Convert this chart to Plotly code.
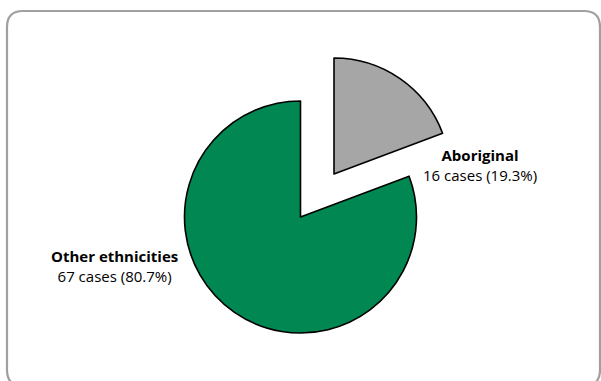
import plotly.graph_objects as go

# ---- data ----
labels = ["Aboriginal", "Other ethnicities"]
cases = [16, 67]
colors = ["#A6A6A6", "#008752"]

total = sum(cases)
pcts = [c / total * 100 for c in cases]

W, H = 601, 381


def px(x):
    return x / W


def py(y):
    return 1 - y / H


def dom(cx, cy, r):
    return dict(x=[px(cx - r), px(cx + r)], y=[py(cy + r), py(cy - r)])


R = 116
fig = go.Figure()

# main pie (other ethnicities), Aboriginal slice left empty
fig.add_trace(go.Pie(
    labels=labels, values=cases, sort=False, direction="clockwise", rotation=0,
    marker=dict(colors=["rgba(0,0,0,0)", colors[1]],
                line=dict(color="black", width=[0, 1.6])),
    textinfo="none", showlegend=False, domain=dom(300.5, 217, R),
))
# exploded Aboriginal slice
fig.add_trace(go.Pie(
    labels=labels, values=cases, sort=False, direction="clockwise", rotation=0,
    marker=dict(colors=[colors[0], "rgba(0,0,0,0)"],
                line=dict(color="black", width=[1.6, 0])),
    textinfo="none", showlegend=False, domain=dom(334, 174, R),
))

font = dict(family="Open Sans, sans-serif", size=15, color="black")
label_pos = [(480, 165), (114, 266)]
for lab, c, p, (x, y) in zip(labels, cases, pcts, label_pos):
    fig.add_annotation(
        text=f"<b>{lab}</b><br>{c} cases ({p:.1f}%)",
        x=px(x), y=py(y), xref="paper", yref="paper",
        showarrow=False, align="center", font=font,
        xanchor="center", yanchor="middle",
    )

# rounded border
x0, y0, x1, y1, rc = 7, 11, 600, 386, 16
path = (f"M {px(x0+rc)},{py(y0)} L {px(x1-rc)},{py(y0)} Q {px(x1)},{py(y0)} {px(x1)},{py(y0+rc)} "
        f"L {px(x1)},{py(y1-rc)} Q {px(x1)},{py(y1)} {px(x1-rc)},{py(y1)} "
        f"L {px(x0+rc)},{py(y1)} Q {px(x0)},{py(y1)} {px(x0)},{py(y1-rc)} "
        f"L {px(x0)},{py(y0+rc)} Q {px(x0)},{py(y0)} {px(x0+rc)},{py(y0)} Z")
fig.add_shape(type="path", path=path, xref="paper", yref="paper",
              line=dict(color="#A0A0A0", width=2.2))

fig.update_layout(
    width=W, height=H, margin=dict(l=0, r=0, t=0, b=0),
    paper_bgcolor="white", plot_bgcolor="white",
)
fig.write_html("out.html")
